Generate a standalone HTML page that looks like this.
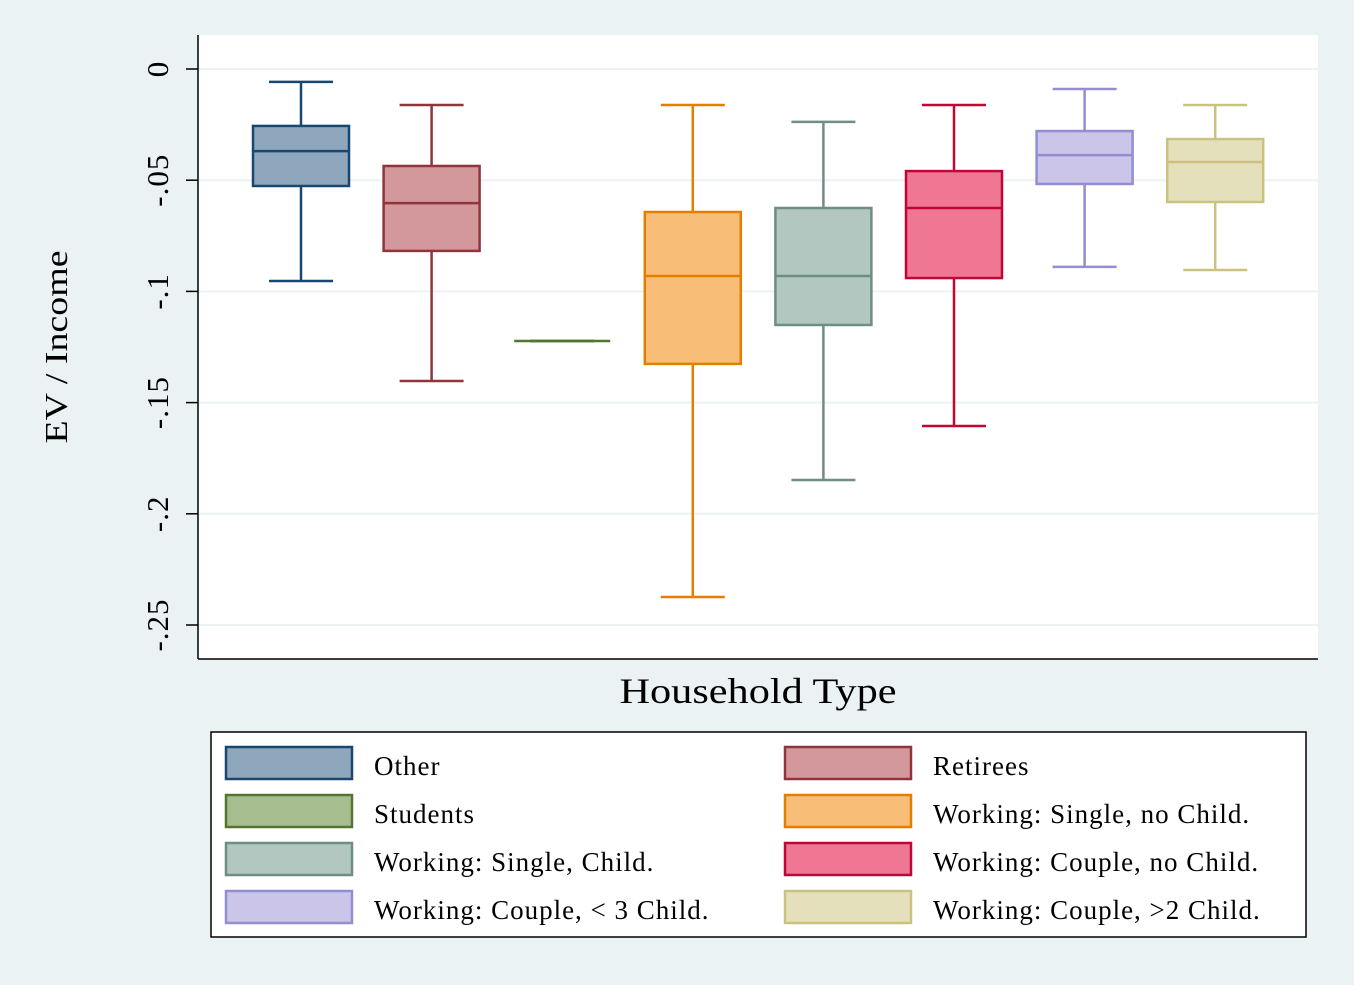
<!DOCTYPE html>
<html><head><meta charset="utf-8"><style>
body{margin:0;background:#eaf2f3;}
svg{display:block;font-family:"Liberation Serif",serif;}
</style></head><body>
<svg id="chart" width="1354" height="985">
<rect x="0" y="0" width="1354" height="985" fill="#eaf2f3"/>
<rect x="198" y="35" width="1120" height="624" fill="#ffffff"/>
<g id="grid"></g>
<g id="boxes"></g>
<line x1="198" y1="35" x2="198" y2="659" stroke="#000" stroke-width="1.5"/>
<line x1="198" y1="659" x2="1318" y2="659" stroke="#000" stroke-width="1.5"/>
<text x="0" y="0" transform="translate(67,347) rotate(-90)" text-anchor="middle" font-size="32" textLength="193" lengthAdjust="spacingAndGlyphs">EV / Income</text>
<text x="758" y="703" text-anchor="middle" font-size="36" textLength="277" lengthAdjust="spacingAndGlyphs">Household Type</text>
<rect x="211" y="732" width="1095" height="205" fill="#fff" stroke="#000" stroke-width="1.5"/>
<g id="legend"></g>
</svg>
<script>
const categories=["Other","Retirees","Students","Working: Single, no Child.","Working: Single, Child.","Working: Couple, no Child.","Working: Couple, < 3 Child.","Working: Couple, >2 Child."];
const legendLabels=["Other","Retirees","Students","Working: Single, no Child.","Working: Single, Child.","Working: Couple, no Child.","Working: Couple, < 3 Child.","Working: Couple, >2 Child."];
const upperWhisker=[-0.0058,-0.0162,-0.1223,-0.0162,-0.0238,-0.0162,-0.009,-0.0162];
const q3=[-0.0256,-0.0436,-0.1223,-0.0643,-0.0625,-0.0459,-0.0279,-0.0315];
const median=[-0.0369,-0.0603,-0.1223,-0.0931,-0.0931,-0.0625,-0.0387,-0.0418];
const q1=[-0.0526,-0.0818,-0.1223,-0.1326,-0.1151,-0.094,-0.0517,-0.0598];
const lowerWhisker=[-0.0953,-0.1403,-0.1223,-0.2374,-0.1848,-0.1605,-0.089,-0.0904];
const yTicks=[0,-0.05,-0.1,-0.15,-0.2,-0.25];
const yTickLabels=["0","-.05","-.1","-.15","-.2","-.25"];
const strokes=["#1a476f","#90353b","#55752f","#e37e00","#6e8e84","#c10534","#938dd2","#cac27e"];
const fills=["#8ea7bd","#d2989c","#a6bd8f","#f8be78","#b3c7c1","#ef7794","#cbc5ea","#e4e0bc"];
const NS="http://www.w3.org/2000/svg";
const y=v=>69+(-v)/0.25*556;
const x=i=>301+i*130.6;
function mk(tag,attrs,parent){const e=document.createElementNS(NS,tag);for(const k in attrs)e.setAttribute(k,attrs[k]);parent.appendChild(e);return e;}
const grid=document.getElementById('grid');
yTicks.forEach((t,i)=>{
  const gl=mk('line',{x1:198,x2:1318,y1:y(t),y2:y(t),stroke:'#eaf2f3','stroke-width':2},grid);
  
  
  const tk=mk('line',{x1:186,x2:198,y1:y(t),y2:y(t),stroke:'#000','stroke-width':1.5},grid);
  
  
  const tx=mk('text',{transform:`translate(168,${y(t)}) rotate(-90)`,'text-anchor':'middle','font-size':31,'letter-spacing':1},grid);
  tx.textContent=yTickLabels[i];
  
  
});
const boxes=document.getElementById('boxes');
categories.forEach((c,i)=>{
  const g=mk('g',{},boxes);
  
  
  const cx=x(i),s=strokes[i],w=2.5;
  mk('line',{x1:cx,x2:cx,y1:y(upperWhisker[i]),y2:y(q3[i]),stroke:s,'stroke-width':w},g);
  mk('line',{x1:cx,x2:cx,y1:y(q1[i]),y2:y(lowerWhisker[i]),stroke:s,'stroke-width':w},g);
  mk('line',{x1:cx-32,x2:cx+32,y1:y(upperWhisker[i]),y2:y(upperWhisker[i]),stroke:s,'stroke-width':w},g);
  mk('line',{x1:cx-32,x2:cx+32,y1:y(lowerWhisker[i]),y2:y(lowerWhisker[i]),stroke:s,'stroke-width':w},g);
  const h=y(q1[i])-y(q3[i]);
  if(h>0.5) mk('rect',{x:cx-48,y:y(q3[i]),width:96,height:h,fill:fills[i],stroke:s,'stroke-width':w},g);
  mk('line',{x1:cx-48,x2:cx+48,y1:y(median[i]),y2:y(median[i]),stroke:s,'stroke-width':w},g);
});
const lg=document.getElementById('legend');
legendLabels.forEach((l,i)=>{
  const col=i%2,row=Math.floor(i/2);
  const sx=col?785:226,ty=763+row*48;
  const g=mk('g',{},lg);
  
  
  mk('rect',{x:sx,y:ty-16,width:126,height:32,fill:fills[i],stroke:strokes[i],'stroke-width':2.5},g);
  const t=mk('text',{x:sx+148,y:ty+12,'font-size':27,'letter-spacing':1},g);
  t.textContent=l;
});
</script>
</body></html>
